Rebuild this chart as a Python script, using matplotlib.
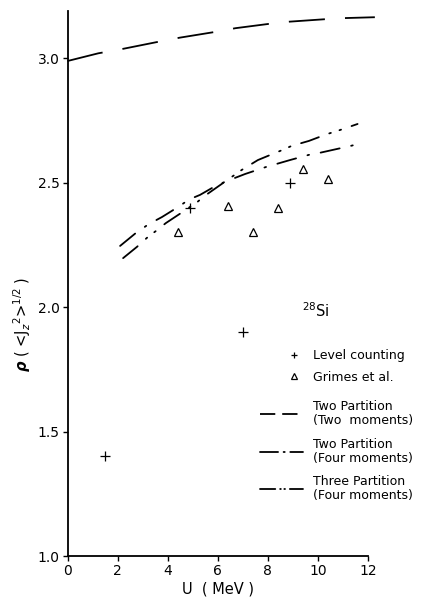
import matplotlib.pyplot as plt
from matplotlib.lines import Line2D

plt.rcParams['font.family'] = ['DejaVu Sans']
plt.rcParams['lines.scale_dashes'] = False
plt.rcParams['mathtext.fontset'] = 'dejavusans'

# level counting points (+)
level_u = [1.5, 4.9, 7.0, 8.9]
level_rho = [1.40, 2.40, 1.90, 2.50]

# Grimes et al. (triangles)
grimes_u = [4.4, 6.4, 7.4, 8.4, 9.4, 10.4]
grimes_rho = [2.30, 2.405, 2.30, 2.40, 2.555, 2.515]

# two partition, two moments
two_two_u = [0.0, 1.23, 2.12, 3.66, 4.49, 5.96, 6.71, 8.02, 8.84, 10.28, 10.88, 12.27]
two_two_rho = [2.989, 3.020, 3.036, 3.067, 3.083, 3.107, 3.121, 3.138, 3.147, 3.157, 3.161, 3.165]

# two partition, four moments
two_four_u = [2.10, 2.73, 3.25, 3.77, 4.41, 4.86, 5.29, 5.98, 6.55, 7.09, 7.92,
              8.88, 9.71, 10.11, 10.60, 11.31, 11.76]
two_four_rho = [2.246, 2.298, 2.334, 2.362, 2.402, 2.433, 2.451, 2.491, 2.514, 2.535, 2.563,
                2.591, 2.614, 2.621, 2.632, 2.648, 2.660]

# three partition, four moments
three_four_u = [2.22, 2.77, 3.21, 3.53, 3.93, 4.53, 5.20, 5.49, 6.95, 7.60, 8.08,
                8.52, 8.95, 9.64, 10.35, 10.80, 11.58]
three_four_rho = [2.197, 2.242, 2.282, 2.306, 2.338, 2.378, 2.424, 2.448, 2.551, 2.591, 2.611,
                  2.629, 2.648, 2.668, 2.695, 2.709, 2.736]

x_ticks = [0, 2, 4, 6, 8, 10, 12]
y_ticks = [1.0, 1.5, 2.0, 2.5, 3.0]

W, H = 422, 601
fig = plt.figure(figsize=(W / 100, H / 100), dpi=100)
ax = fig.add_axes([67.5 / W, 45 / H, 308.1 / W, 545 / H])

lw = 1.3
ax.plot(two_two_u, two_two_rho, color='black', lw=lw,
        dashes=(26, 14.5), dash_capstyle='butt', clip_on=False)
ax.plot(two_four_u, two_four_rho, color='black', lw=lw,
        dashes=(14, 8.5, 1.2, 8.5), dash_capstyle='round', clip_on=False)
ax.plot(three_four_u, three_four_rho, color='black', lw=lw,
        dashes=(13.5, 8, 1.2, 6.5, 1.2, 8), dash_capstyle='round', clip_on=False)

ax.plot(level_u, level_rho, ls='none', marker='+', ms=6.5, mew=0.9, color='black')
ax.plot(grimes_u, grimes_rho, ls='none', marker='^', ms=6.3, mew=0.9,
        mfc='none', mec='black')

ax.set_xlim(0, 12.3)
ax.set_ylim(1.0, 3.19)
ax.set_xticks(x_ticks)
ax.set_xticklabels([str(t) for t in x_ticks])
ax.set_yticks(y_ticks)
ax.set_yticklabels([f'{t:.1f}' for t in y_ticks])
ax.tick_params(axis='both', direction='out', length=3.5, width=1.0, labelsize=10, pad=2)

for side in ['top', 'right']:
    ax.spines[side].set_visible(False)
ax.spines['bottom'].set_bounds(0, 12)
for side in ['left', 'bottom']:
    ax.spines[side].set_linewidth(1.3)

ax.set_xlabel('U  ( MeV )', fontsize=10.5, va='center')
ax.xaxis.set_label_coords(0.488, -0.0606)
ax.set_ylabel(r'$\boldsymbol{\rho}$ ( <J$_z$$^{2}$>$^{1/2}$ )', fontsize=10.5, va='center')
ax.yaxis.set_label_coords(-0.148, 0.425)

ax.text(9.36, 1.985, r'$^{28}$Si', fontsize=10.5, ha='left', va='center')

# legend for the measured points
pts = [Line2D([], [], ls='none', marker='+', ms=5, mew=0.9, color='black'),
       Line2D([], [], ls='none', marker='^', ms=5, mew=0.9, mfc='none', mec='black')]
leg1 = ax.legend(pts, ['Level counting', 'Grimes et al.'], loc='upper left',
                 bbox_to_anchor=(288 / W, 1 - 349 / H), bbox_transform=fig.transFigure,
                 frameon=False, fontsize=9, handlelength=1.0, handletextpad=1.0,
                 labelspacing=0.7, borderpad=0, borderaxespad=0)
ax.add_artist(leg1)

# legend for the calculated curves
curves = [Line2D([], [], color='black', lw=lw, dashes=(11, 5)),
          Line2D([], [], color='black', lw=lw, dashes=(13, 4, 0.8, 4), dash_capstyle='round'),
          Line2D([], [], color='black', lw=lw, dashes=(11, 3.5, 0.5, 2.5, 0.5, 3.5),
                 dash_capstyle='round')]
ax.legend(curves, ['Two Partition\n(Two  moments)', 'Two Partition\n(Four moments)',
                   'Three Partition\n(Four moments)'],
          loc='upper left', bbox_to_anchor=(260 / W, 1 - 400 / H),
          bbox_transform=fig.transFigure, frameon=False, fontsize=9,
          handlelength=3.4, handletextpad=0.85, labelspacing=0.85,
          borderpad=0, borderaxespad=0)
for t in ax.get_legend().get_texts():
    t.set_linespacing(1.1)

fig.savefig('out.png', dpi=100)
